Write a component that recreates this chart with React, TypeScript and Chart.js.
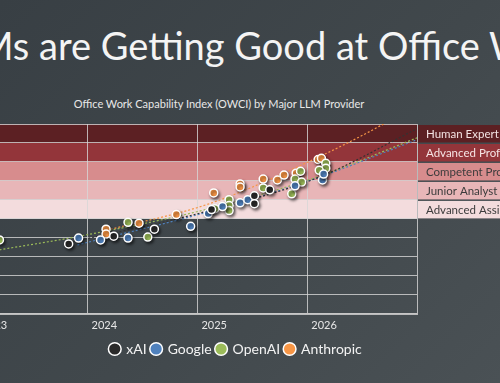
import React, { useEffect, useRef } from "react";
import { Chart, registerables } from "chart.js";

Chart.register(...registerables);

const slideTitle = "LLMs are Getting Good at Office Work";
const chartTitle = "Office Work Capability Index (OWCI) by Major LLM Provider";

const seriesNames = ["xAI", "Google", "OpenAI", "Anthropic"];

const xaiPoints: number[][] = [
  [2023.83, 3.68], [2024.24, 4.09], [2024.61, 4.46], [2025.13, 5.49],
  [2025.52, 6.22], [2025.52, 5.8], [2025.66, 6.53],
];
const googlePoints: number[][] = [
  [2023.92, 3.99], [2024.12, 3.89], [2024.37, 3.99], [2024.94, 4.61],
  [2025.1, 5.28], [2025.23, 5.65], [2025.39, 5.85], [2025.46, 6.01],
  [2025.89, 6.74], [2026.14, 7.05], [2026.15, 7.36],
];
const openaiPoints: number[][] = [
  [2023.2, 3.89], [2024.37, 4.82], [2024.55, 4.04], [2025.16, 5.54],
  [2025.29, 6.01], [2025.29, 5.7], [2025.29, 5.44], [2025.6, 6.63],
  [2025.86, 6.32], [2025.89, 7.1], [2025.94, 7.51], [2025.95, 6.94],
  [2026.17, 7.93], [2026.17, 7.67], [2026.11, 7.56],
];
const anthropicPoints: number[][] = [
  [2024.17, 4.46], [2024.17, 4.2], [2024.47, 4.77], [2024.81, 5.23],
  [2025.15, 6.37], [2025.39, 6.84], [2025.39, 6.68], [2025.6, 7.1],
  [2025.73, 7.05], [2025.79, 7.31], [2025.9, 7.41], [2026.1, 8.13],
  [2026.13, 8.19],
];

// trend lines
const xaiTrend: number[][] = [[2023.83, 3.75], [2025.02, 5.3], [2026.11, 7.2], [2027.0, 9.75]];
const googleTrend: number[][] = [[2023.91, 3.63], [2025.11, 5.39], [2026.11, 7.2], [2027.0, 9.17]];
const openaiTrend: number[][] = [[2023.2, 3.37], [2023.93, 4.09], [2025.11, 5.54], [2026.11, 7.25], [2027.0, 9.27]];
const anthropicTrend: number[][] = [[2024.14, 4.35], [2025.11, 5.8], [2026.02, 8.03], [2026.68, 9.95], [2027.0, 11.05]];

const xTickYears = [2023, 2024, 2025, 2026, 2027];
const xRange = [2022.75, 2027.0];
const yRange = [0, 10];

const bandLabels = [
  "Human Expert",
  "Advanced Professional",
  "Competent Professional",
  "Junior Analyst / Associate",
  "Advanced Assistant",
];
const bandFloors = [9, 8, 7, 6, 5];

const bandFill = ["#5c2023", "#93353a", "#d78c8d", "#e8b6b8", "#f3dcdd"];
const bandText = ["#f3e2e2", "#f6e4e4", "#3c3c3c", "#3c3c3c", "#3c3c3c"];
const seriesColors = ["#2a2a2a", "#4f81bd", "#9bbb59", "#f79646"];

const FONT = "Lato, 'Open Sans', sans-serif";

const toXY = (arr: number[][]) => arr.map(([x, y]) => ({ x, y }));

const bandsPlugin = {
  id: "bands",
  beforeDraw(chart: any) {
    const { ctx, chartArea } = chart;
    const y = chart.scales.y;
    ctx.save();
    bandFloors.forEach((f, i) => {
      const top = y.getPixelForValue(f + 1);
      const bot = y.getPixelForValue(f);
      ctx.fillStyle = bandFill[i];
      ctx.fillRect(chartArea.left, top, chartArea.right - chartArea.left, bot - top);
      // right-side label boxes
      ctx.fillRect(chartArea.right + 1, top + 1, 140, bot - top - 1.5);
      ctx.fillStyle = bandText[i];
      ctx.font = `11.5px ${FONT}`;
      ctx.textBaseline = "middle";
      ctx.textAlign = "left";
      ctx.fillText(bandLabels[i], chartArea.right + 9, (top + bot) / 2 + 0.5);
    });
    ctx.restore();
  },
  beforeDatasetDraw(chart: any, args: any) {
    const ctx = chart.ctx;
    ctx.save();
    if (args.meta.type === "scatter") {
      ctx.shadowColor = "rgba(0,0,0,0.55)";
      ctx.shadowBlur = 3;
      ctx.shadowOffsetX = 1.5;
      ctx.shadowOffsetY = 2;
    }
  },
  afterDatasetDraw(chart: any) {
    chart.ctx.restore();
  },
};

export default function App() {
  const ref = useRef<HTMLCanvasElement | null>(null);

  useEffect(() => {
    if (!ref.current) return;
    const pointSets = [xaiPoints, googlePoints, openaiPoints, anthropicPoints];
    const trendSets = [xaiTrend, googleTrend, openaiTrend, anthropicTrend];
    const datasets: any[] = [];
    pointSets.forEach((pts, i) => {
      datasets.push({
        type: "scatter",
        label: seriesNames[i],
        data: toXY(pts),
        backgroundColor: seriesColors[i],
        borderColor: "#ffffff",
        borderWidth: 1.5,
        pointRadius: 4,
        pointHoverRadius: 4,
        order: 0,
      });
    });
    trendSets.forEach((pts, i) => {
      datasets.push({
        type: "line",
        label: seriesNames[i] + " trend",
        data: toXY(pts),
        borderColor: seriesColors[i] === "#2a2a2a" ? "#333333" : seriesColors[i],
        borderWidth: 1.2,
        borderDash: [2, 2],
        pointRadius: 0,
        fill: false,
        cubicInterpolationMode: "monotone",
        order: 1,
      });
    });

    const chart = new Chart(ref.current, {
      type: "scatter",
      data: { datasets },
      plugins: [bandsPlugin],
      options: {
        animation: false,
        responsive: false,
        maintainAspectRatio: false,
        layout: { padding: { left: 0, right: 0, top: 14, bottom: 17 } },
        plugins: {
          title: { display: false },
          tooltip: { enabled: false },
          legend: {
            display: true,
            position: "bottom",
            labels: {
              usePointStyle: true,
              pointStyle: "circle",
              boxWidth: 9,
              boxHeight: 9,
              padding: 5,
              color: "#f2f2f2",
              font: { family: FONT, size: 14 },
              filter: (item: any) => !item.text.includes("trend"),
            },
          },
        },
        scales: {
          x: {
            type: "linear",
            min: xRange[0],
            max: xRange[1],
            afterBuildTicks: (scale: any) => {
              scale.ticks = xTickYears.map((v) => ({ value: v }));
            },
            ticks: {
              autoSkip: false,
              maxRotation: 0,
              labelOffset: 17,
              padding: 5,
              color: "#e6e6e6",
              font: { family: FONT, size: 11 },
              callback: (v: any) => (v >= 2027 ? "" : String(v)),
            },
            grid: { color: "rgba(215,215,215,0.8)", lineWidth: 1, drawTicks: false },
            border: { display: true, color: "rgba(200,200,200,0.9)", width: 2 },
          },
          y: {
            type: "linear",
            position: "left",
            min: yRange[0],
            max: yRange[1],
            afterFit: (s: any) => {
              s.width = 18;
            },
            ticks: { display: false, stepSize: 1 },
            grid: { color: "rgba(215,215,215,0.8)", lineWidth: 1, drawTicks: false },
            border: { display: false },
          },
          yRight: {
            type: "linear",
            position: "right",
            min: 0,
            max: 1,
            afterFit: (s: any) => {
              s.width = 123;
            },
            ticks: { display: false },
            grid: { display: false, drawTicks: false },
            border: { display: false },
          },
        },
      } as any,
    });
    return () => chart.destroy();
  }, []);

  return (
    <div
      style={{
        position: "fixed",
        left: 0,
        top: 0,
        width: 500,
        height: 383,
        overflow: "hidden",
        background: "linear-gradient(135deg, #383f44 0%, #41484c 55%, #4a5155 100%)",
      }}
    >
      <div
        style={{
          position: "absolute",
          left: -90,
          width: 700,
          top: 26,
          textAlign: "center",
          whiteSpace: "nowrap",
          color: "#f4f4f4",
          fontFamily: FONT,
          fontSize: 38,
          lineHeight: 1,
        }}
      >
        {slideTitle}
      </div>
      <div
        style={{
          position: "absolute",
          left: 19,
          width: 400,
          top: 96,
          textAlign: "center",
          whiteSpace: "nowrap",
          color: "#e8e8e8",
          fontFamily: FONT,
          fontSize: 11,
          lineHeight: "16px",
        }}
      >
        {chartTitle}
      </div>
      <canvas
        ref={ref}
        width={608}
        height={273}
        style={{ position: "absolute", left: -68, top: 110, width: 608, height: 273 }}
      />
    </div>
  );
}
